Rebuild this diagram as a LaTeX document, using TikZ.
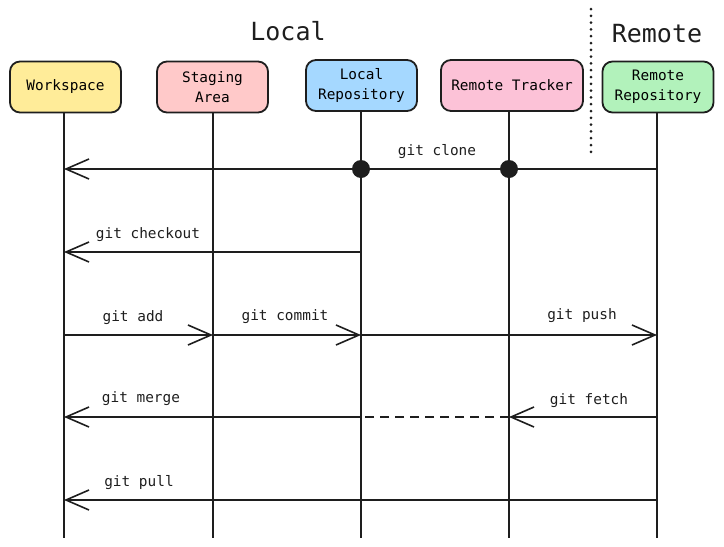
\documentclass[tikz,border=0pt]{standalone}
\usepackage{fontspec}
\setmonofont{DejaVu Sans Mono}
\usetikzlibrary{arrows.meta}

\definecolor{inkc}{HTML}{1E1E1E}
\definecolor{wsfill}{HTML}{FFEC99}
\definecolor{stfill}{HTML}{FFC9C9}
\definecolor{lrfill}{HTML}{A5D8FF}
\definecolor{rtfill}{HTML}{FCC2D7}
\definecolor{rrfill}{HTML}{B2F2BB}

\tikzset{
    box/.style={draw=inkc, line width=1.8pt, rounded corners=10pt, minimum width=111pt, minimum height=51pt, align=center, font=\ttfamily\fontsize{14.4}{20}\selectfont},
    lbl/.style={font=\ttfamily\fontsize{14.4}{17}\selectfont, text=inkc},
    title/.style={font=\ttfamily\fontsize{25}{30}\selectfont, text=inkc},
    life/.style={draw=inkc, line width=1.5pt},
    msg/.style={draw=inkc, line width=1.5pt, -{Straight Barb[length=23pt, width=20pt, line width=1.6pt]}},
    knot/.style={circle, fill=inkc, inner sep=0pt, minimum size=18pt}
}

\begin{document}
\begin{tikzpicture}[x=1pt, y=-1pt]
            \useasboundingbox (0,0) rectangle (724,547);

            % titles and the local / remote split
            \node[title] (tlocal) at (288,31) {Local};
            \node[title] (tremote) at (657,34) {Remote};
            \draw[inkc, line width=3pt, line cap=round, dash pattern=on 0pt off 6.8pt] (591,9) -- (591,155);

            % participants
            \node[box, fill=wsfill] (ws) at (65.5,87) {Workspace};
            \node[box, fill=stfill] (stage) at (212.5,87) {Staging\\Area};
            \node[box, fill=lrfill] (local) at (361.5,85.5) {Local\\Repository};
            \node[box, fill=rtfill, minimum width=142pt] (tracker) at (512,85.5) {Remote Tracker};
            \node[box, fill=rrfill] (remote) at (658,87) {Remote\\Repository};

            % lifelines
            \coordinate (ws0) at (64,538);
            \coordinate (stage0) at (213,538);
            \coordinate (local0) at (361,538);
            \coordinate (tracker0) at (509,538);
            \coordinate (remote0) at (657,538);
            \draw[life] (ws0 |- ws.south) -- (ws0);
            \draw[life] (stage0 |- stage.south) -- (stage0);
            \draw[life] (local0 |- local.south) -- (local0);
            \draw[life] (tracker0 |- tracker.south) -- (tracker0);
            \draw[life] (remote0 |- remote.south) -- (remote0);

            % rows of messages
            \coordinate (r1) at (0,169);
            \coordinate (r2) at (0,252);
            \coordinate (r3) at (0,335);
            \coordinate (r4) at (0,417);
            \coordinate (r5) at (0,500);

            % git clone
            \draw[msg] (remote0 |- r1) -- (ws0 |- r1);
            \node[knot] (dlocal) at (local0 |- r1) {};
            \node[knot] (dtracker) at (tracker0 |- r1) {};
            \node[lbl] (lclone) at (437,152) {git clone};

            % git checkout
            \draw[msg] (local0 |- r2) -- (ws0 |- r2);
            \node[lbl] (lcheckout) at (148,235) {git checkout};

            % git add, git commit, git push
            \draw[msg] (ws0 |- r3) -- (stage0 |- r3);
            \node[lbl] (ladd) at (133,318) {git add};
            \draw[msg] (stage0 |- r3) -- (local0 |- r3);
            \node[lbl] (lcommit) at (285,317) {git commit};
            \draw[msg] (local0 |- r3) -- (remote0 |- r3);
            \node[lbl] (lpush) at (582,316) {git push};

            % git fetch, then git merge
            \draw[msg] (remote0 |- r4) -- (tracker0 |- r4);
            \node[lbl] (lfetch) at (589,401) {git fetch};
            \draw[inkc, line width=1.5pt, dash pattern=on 9pt off 6pt] (tracker0 |- r4) -- (local0 |- r4);
            \draw[msg] (local0 |- r4) -- (ws0 |- r4);
            \node[lbl] (lmerge) at (141,399) {git merge};

            % git pull
            \draw[msg] (remote0 |- r5) -- (ws0 |- r5);
            \node[lbl] (lpull) at (139,483) {git pull};
        \end{tikzpicture}
\end{document}
